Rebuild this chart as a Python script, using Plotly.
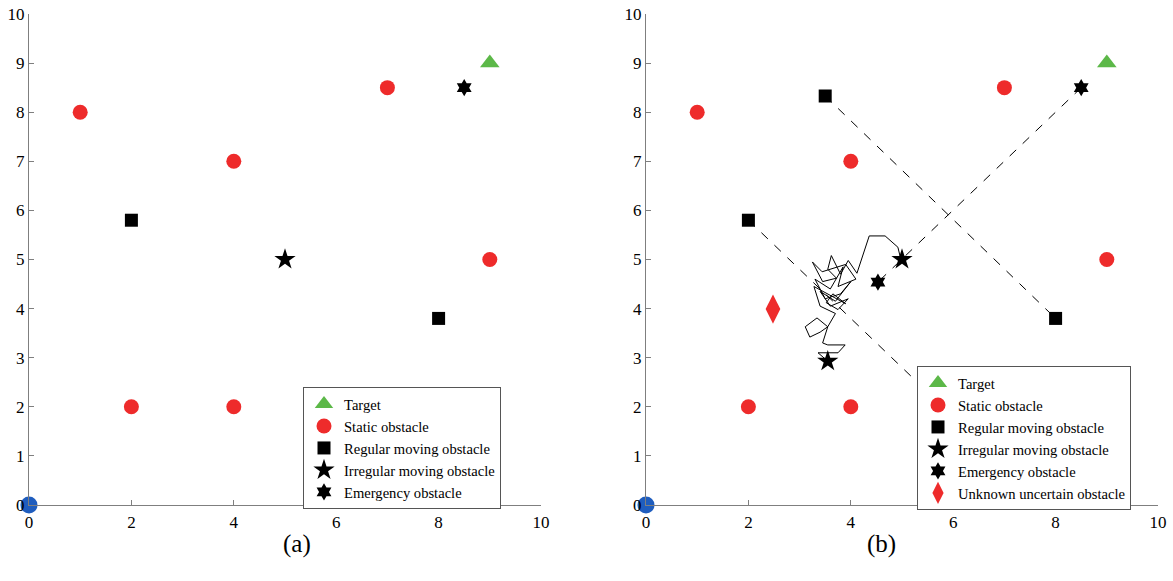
import plotly.graph_objects as go

# ---------------- data ----------------
target = (9, 9)
static_x = [1, 4, 7, 9, 2, 4]
static_y = [8, 7, 8.5, 5, 2, 2]
start = (0, 0)

# panel (a)
reg_a_x = [2, 8]
reg_a_y = [5.8, 3.8]
irr_a_x = [5]
irr_a_y = [5]
emg_a_x = [8.5]
emg_a_y = [8.5]

# panel (b)
reg_b_x = [3.5, 8, 2]
reg_b_y = [8.33, 3.8, 5.8]
irr_b_x = [5, 3.55]
irr_b_y = [5, 2.93]
emg_b_x = [8.5, 4.53]
emg_b_y = [8.5, 4.54]
unk_b_x = [2.48]
unk_b_y = [3.99]

# dashed trajectories (b)
dash1_x = [3.5, 8]
dash1_y = [8.33, 3.8]
dash2_x = [2, 6.2]
dash2_y = [5.8, 1.6]
dash3_x = [8.5, 4.53]
dash3_y = [8.5, 4.54]

# random walk of irregular obstacle (b)
walk_x = [4.98, 4.92, 4.67, 4.36, 4.12, 3.95, 3.8, 3.62, 3.55, 3.72, 3.45, 3.25, 3.44, 3.9,
          4.1, 3.75, 3.85, 3.6, 3.3, 3.5, 3.8, 4.0, 3.7, 3.4, 3.6, 3.95, 3.75, 3.52,
          3.65, 3.9, 3.28, 3.4, 3.7, 3.55, 3.34, 3.11, 3.2, 3.40, 3.55, 3.45, 3.55,
          3.89, 3.75, 3.36, 3.55]
walk_y = [4.99, 5.25, 5.48, 5.48, 4.72, 4.98, 4.7, 5.08, 4.8, 4.62, 4.55, 4.95, 4.75, 4.9,
          4.6, 4.45, 4.85, 4.4, 4.6, 4.2, 4.3, 4.55, 4.15, 4.35, 4.05, 4.2, 3.98, 4.12,
          4.3, 4.1, 4.45, 4.05, 3.9, 3.63, 3.81, 3.63, 3.42, 3.52, 3.63, 3.3, 3.26,
          3.26, 3.1, 3.1, 2.93]

x_ticks = [0, 2, 4, 6, 8, 10]
y_ticks = list(range(0, 11))

GREEN = "#5cb848"
RED = "#ee2b2b"
BLUE = "#1f5dbe"
BLACK = "#000000"
FONT = "Liberation Serif"

fig = go.Figure()

def add_panel(fig, xa, ya, legend, reg_x, reg_y, irr_x, irr_y, emg_x, emg_y, unk=None):
    common = dict(xaxis=xa, yaxis=ya, mode="markers", cliponaxis=False, legend=legend)
    fig.add_trace(go.Scatter(x=[target[0]], y=[target[1]], name="Target",
                             marker=dict(symbol="triangle-up", size=17, color=GREEN), **common))
    fig.add_trace(go.Scatter(x=static_x, y=static_y, name="Static obstacle",
                             marker=dict(symbol="circle", size=15, color=RED), **common))
    fig.add_trace(go.Scatter(x=reg_x, y=reg_y, name="Regular moving obstacle",
                             marker=dict(symbol="square", size=13, color=BLACK), **common))
    fig.add_trace(go.Scatter(x=irr_x, y=irr_y, name="Irregular moving obstacle",
                             marker=dict(symbol="star", size=16, color=BLACK), **common))
    fig.add_trace(go.Scatter(x=emg_x, y=emg_y, name="Emergency obstacle",
                             marker=dict(symbol="hexagram", size=13, color=BLACK), **common))
    if unk is not None:
        fig.add_trace(go.Scatter(x=unk[0], y=unk[1], name="Unknown uncertain obstacle",
                                 marker=dict(symbol="diamond-tall", size=21, color=RED), **common))
    fig.add_trace(go.Scatter(x=[start[0]], y=[start[1]], showlegend=False,
                             marker=dict(symbol="circle", size=17, color=BLUE), **common))

# dashed lines and walk first (beneath markers)
for dx, dy in [(dash1_x, dash1_y), (dash2_x, dash2_y), (dash3_x, dash3_y)]:
    fig.add_trace(go.Scatter(x=dx, y=dy, xaxis="x2", yaxis="y2", mode="lines", showlegend=False,
                             line=dict(color=BLACK, width=1, dash="dash")))
fig.add_trace(go.Scatter(x=walk_x, y=walk_y, xaxis="x2", yaxis="y2", mode="lines", showlegend=False,
                         line=dict(color=BLACK, width=1)))

add_panel(fig, "x", "y", "legend", reg_a_x, reg_a_y, irr_a_x, irr_a_y, emg_a_x, emg_a_y)
add_panel(fig, "x2", "y2", "legend2", reg_b_x, reg_b_y, irr_b_x, irr_b_y, emg_b_x, emg_b_y,
          unk=(unk_b_x, unk_b_y))

W, H = 1173, 581
ydom = [(H - 505) / H, (H - 14) / H]
axis_common = dict(range=[0, 10], showgrid=False, zeroline=False, showline=True,
                   linecolor="#7f7f7f", linewidth=1, ticklen=5, automargin=False, ticks="inside",
                   tickcolor="#7f7f7f", tickfont=dict(family=FONT, size=17, color="black"))

leg_common = dict(bgcolor="white", bordercolor="#555555", borderwidth=1,
                  font=dict(family=FONT, size=14.6, color="black"),
                  xanchor="left", yanchor="top", tracegroupgap=0)

fig.update_layout(
    width=W, height=H, margin=dict(l=0, r=0, t=0, b=0, autoexpand=False),
    plot_bgcolor="white", paper_bgcolor="white",
    xaxis=dict(domain=[29 / W, 541 / W], tickvals=x_ticks, anchor="y", ticklabelstandoff=2, **axis_common),
    yaxis=dict(domain=ydom, tickvals=y_ticks, anchor="x", **axis_common),
    xaxis2=dict(domain=[646 / W, 1158 / W], tickvals=x_ticks, anchor="y2", ticklabelstandoff=2, **axis_common),
    yaxis2=dict(domain=ydom, tickvals=y_ticks, anchor="x2", **axis_common),
    legend=dict(x=303 / W, y=1 - 387 / H, **leg_common),
    legend2=dict(x=917 / W, y=1 - 366 / H, **leg_common),
    annotations=[
        dict(text="(a)", x=281 / W, y=1 - 560 / H, xref="paper", yref="paper", showarrow=False,
             font=dict(family=FONT, size=25, color="black")),
        dict(text="(b)", x=898 / W, y=1 - 560 / H, xref="paper", yref="paper", showarrow=False,
             font=dict(family=FONT, size=25, color="black")),
    ],
)

fig.write_html("out.html", config={"displayModeBar": False},
               post_script="document.body.style.margin='0';document.body.style.overflow='hidden';")
